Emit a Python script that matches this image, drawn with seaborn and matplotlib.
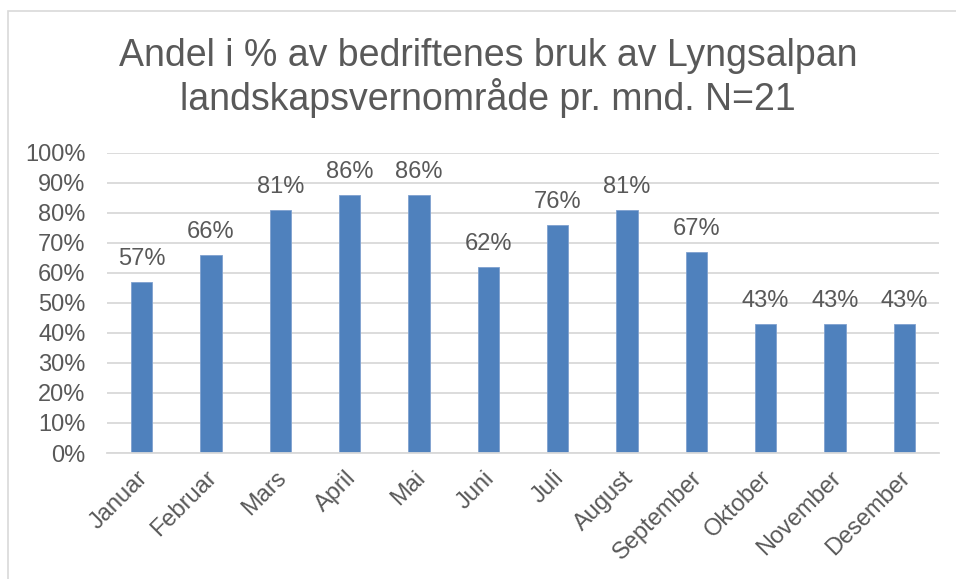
import matplotlib
matplotlib.use("Agg")
import matplotlib.pyplot as plt
import matplotlib.transforms as mtransforms
import seaborn as sns
import pandas as pd
from matplotlib.patches import Rectangle
from matplotlib.ticker import PercentFormatter

months = ["Januar", "Februar", "Mars", "April", "Mai", "Juni", "Juli",
          "August", "September", "Oktober", "November", "Desember"]
shares = [57, 66, 81, 86, 86, 62, 76, 81, 67, 43, 43, 43]
title = "Andel i % av bedriftenes bruk av Lyngsalpan\nlandskapsvernområde pr. mnd. N=21"

sns.set_theme(style="white")
plt.rcParams['font.family'] = ['Liberation Sans', 'DejaVu Sans']

TXT = "#595959"
BAR = "#4F81BD"
GRID = "#D9D9D9"
FS = 17

fig = plt.figure(figsize=(9.56, 5.79), dpi=100)
fig.patch.set_facecolor("white")
# chart frame
fig.patches.append(Rectangle((8/956, -0.1), 1.2, 1 - 11/579 + 0.1,
                             transform=fig.transFigure, fill=False,
                             edgecolor=GRID, linewidth=1.2))

ax = fig.add_axes([107/956, 1 - 453/579, 832/956, 300.5/579])
df = pd.DataFrame({"month": months, "share": [v / 100 for v in shares]})
sns.barplot(data=df, x="month", y="share", color=BAR, saturation=1,
            width=0.31, ax=ax, edgecolor="#7FA1CF", linewidth=0.6)

ax.set_ylim(0, 1.0)
ax.set_xlim(-0.5, len(months) - 0.5)
ax.set_yticks([i / 10 for i in range(11)])
ax.yaxis.set_major_formatter(PercentFormatter(1.0, decimals=0))
ax.grid(axis="y", color=GRID, linewidth=1.3)
ax.set_axisbelow(True)
for s in ["top", "right", "left"]:
    ax.spines[s].set_visible(False)
ax.spines["bottom"].set_color(GRID)
ax.spines["bottom"].set_linewidth(1.3)
ax.set_xlabel("")
ax.set_ylabel("")
ax.tick_params(axis="y", length=0, pad=15.5, labelsize=FS, labelcolor=TXT)
ax.tick_params(axis="x", length=0, pad=10, labelsize=FS, labelcolor=TXT)
shift = mtransforms.ScaledTranslation(-5/100, 0, fig.dpi_scale_trans)
for lab in ax.get_xticklabels():
    lab.set_rotation(45)
    lab.set_ha("right")
    lab.set_va("top")
    lab.set_rotation_mode("anchor")
    lab.set_transform(lab.get_transform() + shift)

for i, v in enumerate(shares):
    ax.annotate(f"{v}%", (i, v / 100), xytext=(0, 12.2), textcoords="offset points",
                ha="center", va="baseline", fontsize=FS, color=TXT)

fig.text(488/956, 1 - 78/579, title, ha="center", va="center",
         fontsize=27, color=TXT, linespacing=1.1)

fig.savefig("out.png", dpi=100)
